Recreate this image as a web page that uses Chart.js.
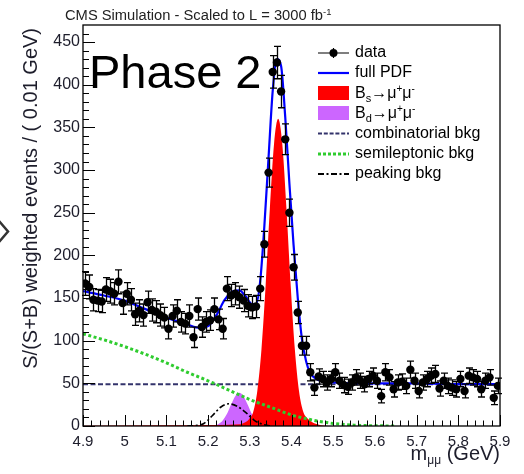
<!DOCTYPE html>
<html>
<head>
<meta charset="utf-8">
<script src="https://cdn.jsdelivr.net/npm/chart.js@4.4.1/dist/chart.umd.min.js"></script>
<style>
html, body { margin: 0; padding: 0; background: #fff; }
canvas { display: block; }
</style>
</head>
<body>
<canvas id="mass-fit" width="524" height="474"></canvas>
<script>
// m(mu mu) fit, 0.01 GeV bins from 4.90 to 5.90 GeV
var binCenters = [
  4.905, 4.915, 4.925, 4.935, 4.945, 4.955, 4.965, 4.975, 4.985, 4.995,
  5.005, 5.015, 5.025, 5.035, 5.045, 5.055, 5.065, 5.075, 5.085, 5.095,
  5.105, 5.115, 5.125, 5.135, 5.145, 5.155, 5.165, 5.175, 5.185, 5.195,
  5.205, 5.215, 5.225, 5.235, 5.245, 5.255, 5.265, 5.275, 5.285, 5.295,
  5.305, 5.315, 5.325, 5.335, 5.345, 5.355, 5.365, 5.375, 5.385, 5.395,
  5.405, 5.415, 5.425, 5.435, 5.445, 5.455, 5.465, 5.475, 5.485, 5.495,
  5.505, 5.515, 5.525, 5.535, 5.545, 5.555, 5.565, 5.575, 5.585, 5.595,
  5.605, 5.615, 5.625, 5.635, 5.645, 5.655, 5.665, 5.675, 5.685, 5.695,
  5.705, 5.715, 5.725, 5.735, 5.745, 5.755, 5.765, 5.775, 5.785, 5.795,
  5.805, 5.815, 5.825, 5.835, 5.845, 5.855, 5.865, 5.875, 5.885, 5.895
];
var dataY = [
  167, 163, 148, 147, 146, 160, 158, 155, 169, 144,
  155, 148, 131, 135, 130, 145, 136, 134, 130, 127,
  114, 129, 135, 122, 120, 129, 104, 137, 116, 122,
  124, 137, 125, 114, 161, 153, 155, 151, 147, 141,
  139, 140, 161, 213, 297, 415, 426, 392, 336, 250,
  186, 133, 94, 94, 63, 45, 58, 55, 51, 55,
  63, 53, 48, 46, 51, 57, 53, 49, 55, 59,
  53, 35, 63, 57, 43, 51, 52, 47, 66, 53,
  41, 51, 55, 59, 61, 44, 53, 47, 45, 43,
  55, 41, 59, 57, 55, 43, 53, 57, 33, 47
];
var dataErr = [
  14, 14, 13, 13, 13, 14, 14, 13, 14, 13,
  13, 13, 13, 13, 13, 13, 13, 13, 13, 12,
  12, 13, 13, 12, 12, 13, 12, 13, 12, 12,
  12, 13, 12, 12, 14, 13, 13, 13, 13, 13,
  13, 13, 14, 15, 17, 19, 19, 19, 18, 16,
  15, 13, 11, 11, 10, 9, 9, 9, 9, 9,
  10, 9, 9, 9, 9, 9, 9, 9, 9, 9,
  9, 8, 10, 9, 9, 9, 9, 9, 10, 9,
  8, 9, 9, 9, 10, 9, 9, 9, 9, 9,
  9, 8, 9, 9, 9, 9, 9, 9, 8, 9
];

// fit components
var pdfX = [4.90, 4.95, 5.00, 5.05, 5.10, 5.15, 5.18, 5.20, 5.22, 5.24, 5.26, 5.275, 5.29, 5.305, 5.315,
            5.325, 5.335, 5.345, 5.355, 5.365, 5.375, 5.385, 5.395, 5.405, 5.415, 5.425, 5.435, 5.445,
            5.46, 5.48, 5.50, 5.60, 5.70, 5.80, 5.90];
var pdfY = [158, 153, 147, 137, 127, 119, 115, 117, 130, 148, 158, 159, 152, 143, 143,
            170, 235, 315, 393, 430, 422, 362, 284, 212, 150, 102, 76, 62,
            55, 52, 51, 50, 50, 49, 49];

var bsX = [4.90, 5.10, 5.20, 5.25, 5.278, 5.288, 5.298, 5.308, 5.318, 5.328, 5.338, 5.348, 5.358, 5.368,
           5.378, 5.388, 5.398, 5.408, 5.418, 5.428, 5.438, 5.448, 5.458, 5.47, 5.49];
var bsY = [0.3, 0.8, 1.2, 1.5, 2, 4, 8, 16, 41, 90, 165, 254, 330, 360,
           330, 254, 165, 90, 41, 17, 9, 5, 2.5, 1, 0];

var bdX = [5.20, 5.215, 5.225, 5.235, 5.245, 5.255, 5.265, 5.275, 5.285, 5.295, 5.305, 5.315, 5.325, 5.335, 5.35];
var bdY = [0.2, 0.7, 2.3, 6.4, 14, 25, 35, 39, 35, 25, 14, 6.4, 2.3, 0.7, 0];

var combX = [4.90, 5.90];
var combY = [49, 49];

var semiX = [4.90, 4.95, 5.00, 5.05, 5.10, 5.15, 5.20, 5.25, 5.30, 5.35, 5.40, 5.45, 5.50, 5.55, 5.60, 5.65];
var semiY = [108, 101, 93, 84, 74, 63, 53, 42, 31, 22, 13, 7, 3, 1, 0.3, 0];

var peakX = [5.15, 5.17, 5.19, 5.21, 5.23, 5.25, 5.27, 5.29, 5.31, 5.33, 5.35];
var peakY = [0, 0.5, 3, 12, 22, 26, 23, 16, 7, 2, 0];

var xTickLabels = ['4.9', '5', '5.1', '5.2', '5.3', '5.4', '5.5', '5.6', '5.7', '5.8', '5.9'];
var yTickLabels = ['0', '50', '100', '150', '200', '250', '300', '350', '400', '450'];

var FONT = '"Liberation Sans", Arial, Helvetica, sans-serif';
var INK = '#1d1d2b';

function pts(xs, ys) {
  return xs.map(function (x, i) { return { x: x, y: ys[i] }; });
}

// vertical error bars under the data markers
var errorBars = {
  id: 'errorBars',
  beforeDatasetDraw: function (chart, args) {
    if (args.index !== 0) return;
    var c = chart.ctx, xs = chart.scales.x, ys = chart.scales.y;
    c.save();
    c.strokeStyle = '#000';
    c.lineWidth = 1.3;
    c.beginPath();
    for (var i = 0; i < dataY.length; i++) {
      var px = Math.round(xs.getPixelForValue(binCenters[i])) + 0.5;
      var lo = ys.getPixelForValue(dataY[i] - dataErr[i]);
      var hi = ys.getPixelForValue(dataY[i] + dataErr[i]);
      c.moveTo(px, lo); c.lineTo(px, hi);
      c.moveTo(px - 3.5, lo); c.lineTo(px + 3.5, lo);
      c.moveTo(px - 3.5, hi); c.lineTo(px + 3.5, hi);
    }
    c.stroke();
    c.restore();
  }
};

function richText(c, parts, x, y) {
  // parts: [text, size, dy]
  parts.forEach(function (p) {
    c.font = p[1] + 'px ' + FONT;
    c.fillText(p[0], x, y + (p[2] || 0));
    x += c.measureText(p[0]).width;
  });
  return x;
}

function richWidth(c, parts) {
  var w = 0;
  parts.forEach(function (p) {
    c.font = p[1] + 'px ' + FONT;
    w += c.measureText(p[0]).width;
  });
  return w;
}

// frame, inward ticks, titles and legend
var decorations = {
  id: 'decorations',
  afterDraw: function (chart) {
    var c = chart.ctx, a = chart.chartArea, xs = chart.scales.x, ys = chart.scales.y;
    c.save();

    // ticks
    c.strokeStyle = '#000';
    c.lineWidth = 1;
    c.beginPath();
    for (var m = 0; m <= 50; m++) {
      var v = 4.9 + m * 0.02;
      var px = Math.round(xs.getPixelForValue(v)) + 0.5;
      var len = (m % 5 === 0) ? 11 : 5.5;
      c.moveTo(px, a.bottom); c.lineTo(px, a.bottom - len);
    }
    for (var n = 0; n <= 46; n++) {
      var py = Math.round(ys.getPixelForValue(n * 10)) + 0.5;
      var l2 = (n % 5 === 0) ? 12 : 6;
      c.moveTo(a.left, py); c.lineTo(a.left + l2, py);
    }
    c.stroke();

    // frame
    c.lineWidth = 1.3;
    c.strokeRect(a.left, a.top, a.right - a.left, a.bottom - a.top);

    c.fillStyle = '#000';
    c.textBaseline = 'alphabetic';
    c.textAlign = 'left';

    // header
    c.save();
    c.font = '14px ' + FONT;
    var head = 'CMS Simulation - Scaled to L = 3000 fb';
    var hw = c.measureText(head).width;
    var sx = 258 / hw;
    c.translate(65, 20);
    c.scale(sx, 1);
    c.fillStyle = '#222';
    c.fillText(head, 0, 0);
    c.font = '9px ' + FONT;
    c.fillText('-1', hw, -5);
    c.restore();

    // big label
    c.font = '47px ' + FONT;
    c.fillText('Phase 2', 89, 88);

    // y title
    c.save();
    c.translate(37, 28);
    c.rotate(-Math.PI / 2);
    c.textAlign = 'right';
    c.font = '20px ' + FONT;
    c.fillStyle = INK;
    c.fillText('S/(S+B) weighted events / ( 0.01 GeV)', 0, 0);
    c.restore();

    // x title
    c.fillStyle = INK;
    var xt = [['m', 20, 0], ['\u03bc\u03bc', 12, 4], [' (GeV)', 20, 0]];
    richText(c, xt, a.right - richWidth(c, xt), 460);

    // legend
    var lx1 = 318, lx2 = 349, tx = 355;
    var rows = [53, 73, 93, 113, 133.5, 154, 174];
    c.fillStyle = '#000';
    c.font = '16px ' + FONT;
    c.textBaseline = 'middle';

    c.lineWidth = 1.2;
    c.beginPath();
    c.moveTo(lx1, rows[0]); c.lineTo(lx2, rows[0]);
    c.moveTo(333.5, rows[0] - 5); c.lineTo(333.5, rows[0] + 5);
    c.stroke();
    c.beginPath(); c.arc(333.5, rows[0], 4, 0, Math.PI * 2); c.fill();
    c.fillText('data', tx, rows[0]);

    c.strokeStyle = '#0000ff'; c.lineWidth = 2.2;
    c.beginPath(); c.moveTo(lx1, rows[1]); c.lineTo(lx2, rows[1]); c.stroke();
    c.fillText('full PDF', tx, rows[1]);

    c.fillStyle = '#ff0000';
    c.fillRect(lx1, rows[2] - 7, lx2 - lx1, 14);
    c.fillStyle = '#cc66ff';
    c.fillRect(lx1, rows[3] - 7, lx2 - lx1, 14);
    c.fillStyle = '#000';
    c.textBaseline = 'alphabetic';
    richText(c, [['B', 16, 0], ['s', 11, 4], ['\u2192\u03bc', 16, 0], ['+', 10, -6], ['\u03bc', 16, 0], ['-', 10, -6]], tx, rows[2] + 5);
    richText(c, [['B', 16, 0], ['d', 11, 4], ['\u2192\u03bc', 16, 0], ['+', 10, -6], ['\u03bc', 16, 0], ['-', 10, -6]], tx, rows[3] + 5);
    c.textBaseline = 'middle';
    c.font = '16px ' + FONT;

    c.strokeStyle = '#33336b'; c.lineWidth = 2; c.setLineDash([4, 1.8]);
    c.beginPath(); c.moveTo(lx1, rows[4]); c.lineTo(lx2, rows[4]); c.stroke();
    c.fillText('combinatorial bkg', tx, rows[4]);

    c.strokeStyle = '#2fcc2f'; c.lineWidth = 3; c.setLineDash([3, 2]);
    c.beginPath(); c.moveTo(lx1, rows[5]); c.lineTo(lx2, rows[5]); c.stroke();
    c.fillText('semileptonic bkg', tx, rows[5]);

    c.strokeStyle = '#000'; c.lineWidth = 1.8; c.setLineDash([6, 2.5, 2, 2.5]);
    c.beginPath(); c.moveTo(lx1, rows[6]); c.lineTo(lx2, rows[6]); c.stroke();
    c.fillText('peaking bkg', tx, rows[6]);
    c.setLineDash([]);

    // arrow head at the left edge
    c.strokeStyle = '#333';
    c.lineWidth = 2.5;
    c.beginPath();
    c.moveTo(-1, 221); c.lineTo(8, 231.5); c.lineTo(-1, 242);
    c.stroke();

    c.restore();
  }
};

var ctx = document.getElementById('mass-fit');
var massChart = new Chart(ctx, {
  type: 'line',
  data: {
    datasets: [
      {
        label: 'data', type: 'scatter', data: pts(binCenters, dataY), showLine: false,
        pointRadius: 4.2, pointBackgroundColor: '#000', pointBorderColor: '#000', pointBorderWidth: 0
      },
      {
        label: 'full PDF', data: pts(pdfX, pdfY), borderColor: '#0000ff', borderWidth: 2.2,
        pointRadius: 0, fill: false, cubicInterpolationMode: 'monotone'
      },
      {
        label: 'peaking bkg', data: pts(peakX, peakY), borderColor: '#000', borderWidth: 1.6,
        borderDash: [6, 2.5, 2, 2.5], pointRadius: 0, fill: false, cubicInterpolationMode: 'monotone'
      },
      {
        label: 'semileptonic bkg', data: pts(semiX, semiY), borderColor: '#2fcc2f', borderWidth: 3,
        borderDash: [3, 2.5], pointRadius: 0, fill: false, cubicInterpolationMode: 'monotone'
      },
      {
        label: 'Bs', data: pts(bsX, bsY), borderColor: '#ff0000', backgroundColor: '#ff0000',
        borderWidth: 0, pointRadius: 0, fill: 'origin', cubicInterpolationMode: 'monotone'
      },
      {
        label: 'Bd', data: pts(bdX, bdY), borderColor: '#cc66ff', backgroundColor: '#cc66ff',
        borderWidth: 0, pointRadius: 0, fill: 'origin', cubicInterpolationMode: 'monotone'
      },
      {
        label: 'combinatorial bkg', data: pts(combX, combY), borderColor: '#33336b', borderWidth: 2,
        borderDash: [5, 2.5], pointRadius: 0, fill: false
      }
    ]
  },
  options: {
    responsive: false,
    animation: false,
    events: [],
    layout: { padding: { left: 0, right: 24, top: 25, bottom: 0 } },
    plugins: { legend: { display: false }, tooltip: { enabled: false } },
    scales: {
      x: {
        type: 'linear', min: 4.9, max: 5.9,
        grid: { display: false, drawTicks: false },
        border: { display: false },
        ticks: {
          stepSize: 0.1, autoSkip: false, maxRotation: 0, padding: 7, color: INK,
          font: { family: FONT, size: 15 },
          callback: function (v, i) { return xTickLabels[i]; }
        },
        afterFit: function (s) { s.height = 48; }
      },
      y: {
        min: 0, max: 470,
        grid: { display: false, drawTicks: false },
        border: { display: false },
        ticks: {
          stepSize: 50, includeBounds: false, padding: 3, color: INK,
          font: { family: FONT, size: 16 },
          callback: function (v, i) { return yTickLabels[i]; }
        },
        afterFit: function (s) { s.width = 83; }
      }
    }
  },
  plugins: [errorBars, decorations]
});
</script>
</body>
</html>
